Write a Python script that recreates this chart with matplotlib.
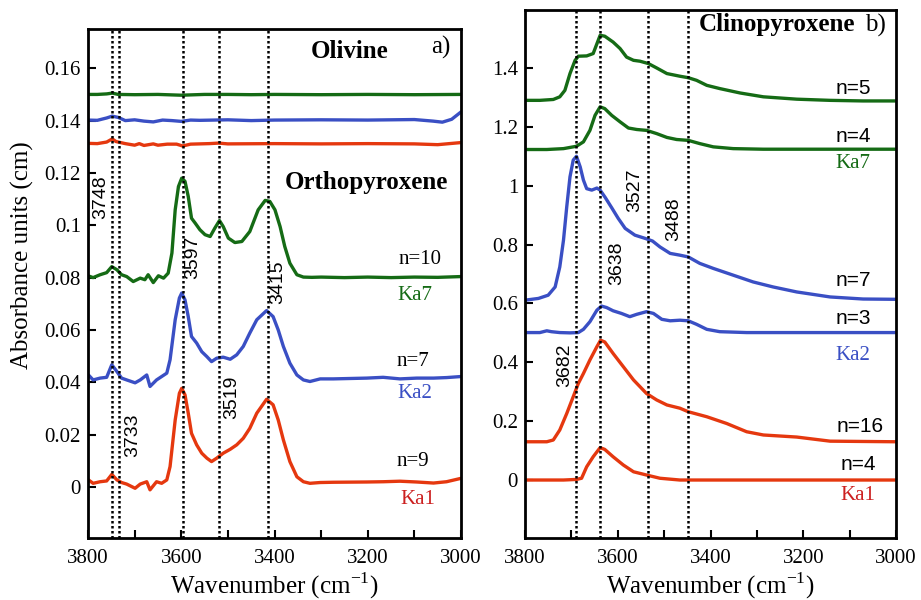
import matplotlib
matplotlib.use("Agg")
import matplotlib.pyplot as plt
from matplotlib.ticker import MultipleLocator, FormatStrFormatter

W, H = 921, 600

# ---- panel a) olivine ----
ol_ka7_wn = [3800, 3780, 3760, 3748, 3735, 3700, 3650, 3600, 3550, 3500, 3450, 3400, 3300, 3200, 3100, 3000]
ol_ka7 = [0.1500, 0.1500, 0.1502, 0.1505, 0.1500, 0.1499, 0.1500, 0.1497, 0.1500, 0.1500, 0.1499, 0.1500, 0.1499, 0.1500, 0.1499, 0.1500]
ol_ka2_wn = [3800, 3780, 3760, 3748, 3735, 3720, 3700, 3680, 3660, 3640, 3620, 3600, 3580, 3560, 3500, 3450, 3400, 3300, 3200, 3100, 3060, 3040, 3020, 3000]
ol_ka2 = [0.1402, 0.1401, 0.1410, 0.1417, 0.1412, 0.1400, 0.1403, 0.1398, 0.1395, 0.1402, 0.1400, 0.1397, 0.1402, 0.1401, 0.1403, 0.1400, 0.1402, 0.1403, 0.1402, 0.1404, 0.1398, 0.1394, 0.1405, 0.1433]
ol_ka1_wn = [3800, 3780, 3760, 3748, 3740, 3720, 3700, 3690, 3680, 3660, 3650, 3630, 3610, 3597, 3580, 3540, 3520, 3500, 3400, 3300, 3200, 3100, 3050, 3000]
ol_ka1 = [0.1313, 0.1312, 0.1318, 0.1330, 0.1320, 0.1312, 0.1306, 0.1312, 0.1305, 0.1311, 0.1306, 0.1310, 0.1310, 0.1303, 0.1310, 0.1312, 0.1314, 0.1311, 0.1312, 0.1311, 0.1312, 0.1311, 0.1308, 0.1316]

# ---- panel a) orthopyroxene ----
opx_ka7_wn = [3800, 3789, 3774, 3760, 3749, 3738, 3728, 3717, 3703, 3688, 3678, 3671, 3660, 3649, 3638, 3628,
              3620, 3613, 3606, 3599, 3592, 3585, 3578, 3570, 3560, 3549, 3538, 3528, 3518, 3510, 3499, 3485,
              3470, 3453, 3435, 3420, 3410, 3399, 3388, 3378, 3367, 3352, 3338, 3320, 3300, 3250, 3200, 3150,
              3100, 3050, 3000]
opx_ka7 = [0.0807, 0.0800, 0.0811, 0.0819, 0.0842, 0.0830, 0.0811, 0.0804, 0.0785, 0.0798, 0.0792, 0.0811, 0.0781, 0.0807, 0.0798, 0.0817,
           0.0894, 0.1059, 0.1148, 0.1180, 0.1168, 0.1110, 0.1027, 0.1008, 0.0983, 0.0964, 0.0957, 0.0989, 0.1018, 0.0995, 0.0951, 0.0934,
           0.0938, 0.0976, 0.1059, 0.1095, 0.1091, 0.1059, 0.0995, 0.0919, 0.0855, 0.0811, 0.0802, 0.0801, 0.0802, 0.0800, 0.0802, 0.0800,
           0.0802, 0.0801, 0.0804]
opx_ka2_wn = [3799, 3789, 3774, 3760, 3749, 3738, 3728, 3717, 3699, 3688, 3674, 3667, 3653, 3642, 3631, 3624, 3613, 3604,
              3599, 3592, 3585, 3578, 3567, 3556, 3545, 3535, 3524, 3510, 3495, 3481, 3467, 3453, 3438, 3417, 3403, 3392,
              3381, 3367, 3352, 3338, 3324, 3302, 3274, 3202, 3167, 3131, 3095, 3059, 3031, 3000]
opx_ka2 = [0.0428, 0.0409, 0.0416, 0.0419, 0.0467, 0.0441, 0.0416, 0.0409, 0.0398, 0.0409, 0.0428, 0.0384, 0.0409, 0.0422, 0.0435, 0.0486, 0.0639, 0.0722,
           0.0741, 0.0715, 0.0651, 0.0575, 0.0550, 0.0517, 0.0498, 0.0479, 0.0492, 0.0496, 0.0488, 0.0505, 0.0537, 0.0588, 0.0639, 0.0674, 0.0651, 0.0600,
           0.0537, 0.0473, 0.0428, 0.0409, 0.0403, 0.0413, 0.0413, 0.0416, 0.0419, 0.0413, 0.0416, 0.0416, 0.0418, 0.0422]
opx_ka1_wn = [3799, 3789, 3774, 3760, 3749, 3738, 3728, 3717, 3699, 3688, 3674, 3667, 3653, 3642, 3631, 3624, 3613, 3604,
              3599, 3592, 3585, 3578, 3567, 3556, 3545, 3535, 3524, 3510, 3495, 3481, 3467, 3453, 3438, 3417, 3403, 3392,
              3381, 3367, 3352, 3338, 3324, 3302, 3274, 3202, 3167, 3131, 3095, 3059, 3031, 3000]
opx_ka1 = [0.0027, 0.0014, 0.0020, 0.0023, 0.0048, 0.0027, 0.0017, 0.0011, -0.0005, 0.0011, 0.0020, -0.0011, 0.0020, 0.0014, 0.0027, 0.0078, 0.0256, 0.0358,
           0.0377, 0.0352, 0.0282, 0.0205, 0.0161, 0.0129, 0.0110, 0.0097, 0.0110, 0.0129, 0.0144, 0.0161, 0.0186, 0.0224, 0.0282, 0.0335, 0.0314, 0.0256,
           0.0180, 0.0097, 0.0039, 0.0020, 0.0014, 0.0017, 0.0018, 0.0019, 0.0020, 0.0022, 0.0019, 0.0015, 0.0020, 0.0033]

# ---- panel b) clinopyroxene ----
cpx_ka7a_wn = [3800, 3768, 3739, 3725, 3714, 3703, 3692, 3685, 3667, 3653, 3638, 3628, 3610, 3595, 3581, 3566, 3552, 3534,
               3516, 3494, 3466, 3448, 3430, 3408, 3380, 3336, 3286, 3214, 3142, 3071, 3000]
cpx_ka7a = [1.290, 1.290, 1.293, 1.302, 1.324, 1.381, 1.426, 1.440, 1.441, 1.449, 1.511, 1.508, 1.488, 1.466, 1.437, 1.426, 1.423, 1.415,
            1.400, 1.381, 1.372, 1.367, 1.358, 1.341, 1.330, 1.315, 1.302, 1.294, 1.290, 1.288, 1.288]
cpx_ka7b_wn = [3800, 3753, 3717, 3689, 3674, 3660, 3649, 3638, 3628, 3613, 3595, 3577, 3559, 3538, 3516, 3494, 3473, 3448,
               3423, 3394, 3351, 3286, 3178, 3000]
cpx_ka7b = [1.123, 1.123, 1.126, 1.134, 1.149, 1.188, 1.239, 1.268, 1.262, 1.239, 1.217, 1.196, 1.191, 1.188, 1.177, 1.164, 1.157, 1.154,
            1.143, 1.132, 1.126, 1.124, 1.124, 1.124]
cpx_ka2a_wn = [3800, 3771, 3750, 3735, 3725, 3717, 3710, 3703, 3696, 3689, 3681, 3674, 3667, 3656, 3645, 3638, 3627, 3613,
               3599, 3584, 3563, 3541, 3525, 3509, 3487, 3466, 3448, 3423, 3394, 3351, 3308, 3265, 3214, 3142, 3071, 3000]
cpx_ka2a = [0.611, 0.617, 0.628, 0.656, 0.724, 0.815, 0.928, 1.030, 1.087, 1.100, 1.064, 1.019, 0.990, 0.985, 0.992, 0.985, 0.960, 0.925,
            0.889, 0.855, 0.832, 0.821, 0.812, 0.792, 0.770, 0.764, 0.758, 0.736, 0.719, 0.696, 0.673, 0.656, 0.639, 0.622, 0.615, 0.614]
cpx_ka2b_wn = [3800, 3768, 3753, 3743, 3725, 3703, 3685, 3674, 3660, 3645, 3635, 3624, 3610, 3592, 3574, 3559, 3538, 3523,
               3505, 3487, 3466, 3448, 3430, 3408, 3380, 3322, 3178, 3000]
cpx_ka2b = [0.501, 0.501, 0.507, 0.504, 0.501, 0.500, 0.501, 0.512, 0.538, 0.577, 0.591, 0.586, 0.575, 0.566, 0.555, 0.563, 0.572, 0.566,
            0.546, 0.541, 0.543, 0.541, 0.529, 0.512, 0.504, 0.501, 0.501, 0.501]
cpx_ka1a_wn = [3800, 3753, 3739, 3725, 3710, 3696, 3685, 3674, 3660, 3645, 3637, 3628, 3610, 3588, 3566, 3538, 3516, 3494,
               3466, 3448, 3408, 3365, 3322, 3286, 3214, 3142, 3000]
cpx_ka1a = [0.130, 0.130, 0.136, 0.170, 0.226, 0.283, 0.328, 0.362, 0.408, 0.453, 0.475, 0.469, 0.430, 0.385, 0.340, 0.294, 0.272, 0.255,
            0.244, 0.232, 0.215, 0.192, 0.164, 0.153, 0.146, 0.132, 0.130]
cpx_ka1b_wn = [3800, 3717, 3689, 3678, 3667, 3653, 3638, 3628, 3610, 3588, 3566, 3538, 3509, 3466, 3000]
cpx_ka1b = [0.000, 0.000, 0.002, 0.006, 0.045, 0.079, 0.110, 0.104, 0.079, 0.051, 0.028, 0.017, 0.006, 0.000, 0.000]

peaks_a = [3748, 3733, 3597, 3519, 3415]
peaks_b = [3689, 3638, 3534, 3449]

GREEN = "#156b15"
BLUE = "#3a4fc4"
RED = "#e5380f"
SERIF = "Liberation Serif"
SANS = "Liberation Sans"

plt.rcParams["font.family"] = SERIF
plt.rcParams["mathtext.fontset"] = "custom"
plt.rcParams["mathtext.rm"] = SERIF

fig = plt.figure(figsize=(W / 100, H / 100), dpi=100)


def px_axes(x0, y0, x1, y1):
    return fig.add_axes([x0 / W, 1 - y1 / H, (x1 - x0) / W, (y1 - y0) / H])


def ftext(x, y, s, **kw):
    fig.text(x / W, 1 - y / H, s, ha="center", va="center", **kw)


ax1 = px_axes(88, 29, 461, 538)
ax2 = px_axes(525, 10, 896, 538)

lw = 2.4
for wn, v, c in [(ol_ka7_wn, ol_ka7, GREEN), (ol_ka2_wn, ol_ka2, BLUE), (ol_ka1_wn, ol_ka1, RED),
                 (opx_ka7_wn, opx_ka7, GREEN), (opx_ka2_wn, opx_ka2, BLUE), (opx_ka1_wn, opx_ka1, RED)]:
    ax1.plot(wn, v, color=c, lw=lw, solid_joinstyle="round", solid_capstyle="round")
for wn, v, c in [(cpx_ka7a_wn, cpx_ka7a, GREEN), (cpx_ka7b_wn, cpx_ka7b, GREEN), (cpx_ka2a_wn, cpx_ka2a, BLUE),
                 (cpx_ka2b_wn, cpx_ka2b, BLUE), (cpx_ka1a_wn, cpx_ka1a, RED), (cpx_ka1b_wn, cpx_ka1b, RED)]:
    ax2.plot(wn, v, color=c, lw=lw, solid_joinstyle="round", solid_capstyle="round")

for p in peaks_a:
    ax1.axvline(p, color="black", ls=(0, (1, 1)), lw=1.8, zorder=3)
for p in peaks_b:
    ax2.axvline(p, color="black", ls=(0, (1, 1)), lw=1.8, zorder=3)

ax1.set_ylim(-0.0195, 0.175)
ax1.yaxis.set_major_locator(MultipleLocator(0.02))
ax2.set_ylim(-0.197, 1.597)
ax2.yaxis.set_major_locator(MultipleLocator(0.2))

for ax in (ax1, ax2):
    ax.set_xlim(3800, 3000)
    ax.xaxis.set_major_locator(MultipleLocator(200))
    ax.xaxis.set_minor_locator(MultipleLocator(100))
    ax.yaxis.set_major_formatter(FormatStrFormatter("%g"))
    ax.tick_params(which="both", direction="in", length=6, width=1.5, labelsize=15)
    ax.tick_params(axis="x", pad=8)
    ax.tick_params(axis="y", pad=5)
    for s in ax.spines.values():
        s.set_linewidth(2)
    ax.set_xlabel("Wavenumber (cm$^{\\mathregular{-1}}$)", fontsize=18, labelpad=2)

ftext(22, 255, "Absorbance units (cm)", fontsize=18, rotation=90)

# panel a) labels
ftext(350, 52, "Olivine", fontsize=18, fontweight="bold")
ftext(441, 47, "a)", fontsize=18)
ftext(366, 183, "Orthopyroxene", fontsize=18, fontweight="bold")
ftext(420, 260, "n=10", fontsize=15)
ftext(415, 295, "Ka7", fontsize=15, color=GREEN)
ftext(413, 361, "n=7", fontsize=15)
ftext(415, 394, "Ka2", fontsize=15, color=BLUE)
ftext(413, 462, "n=9", fontsize=15)
ftext(418, 499, "Ka1", fontsize=15, color="#cc2020")
for x, y, s in [(101, 197, "3748"), (193, 257, "3597"), (278, 282, "3415"), (133, 435, "3733"), (232, 397, "3519")]:
    ftext(x, y, s, fontsize=14, rotation=90, family=SANS)

# panel b) labels
ftext(777, 25, "Clinopyroxene", fontsize=18, fontweight="bold")
ftext(875, 25, "b)", fontsize=18)
for x, y, s in [(853, 88, "n=5"), (853, 137, "n=4"), (853, 280, "n=7"), (853, 318, "n=3"), (860, 426, "n=16"), (858, 465, "n=4")]:
    ftext(x, y, s, fontsize=15, family=SANS)
ftext(853, 163, "Ka7", fontsize=15, color=GREEN)
ftext(853, 355, "Ka2", fontsize=15, color=BLUE)
ftext(858, 496, "Ka1", fontsize=15, color="#cc2020")
for x, y, s in [(635, 190, "3527"), (674, 219, "3488"), (617, 263, "3638"), (565, 365, "3682")]:
    ftext(x, y, s, fontsize=14, rotation=90, family=SANS)

fig.savefig("out.png", dpi=100)
